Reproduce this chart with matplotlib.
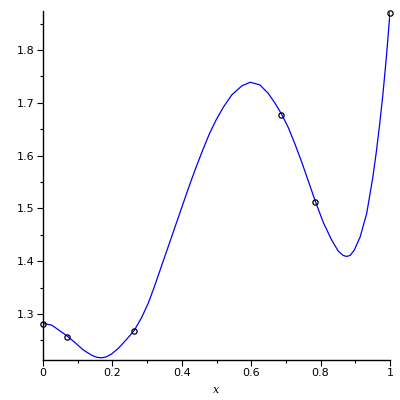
import matplotlib
matplotlib.use("Agg")
from matplotlib import pyplot as plt
from matplotlib.ticker import MultipleLocator

# curve
curve_x = [0.0, 0.025, 0.049, 0.070, 0.092, 0.116, 0.140, 0.155, 0.169, 0.183,
           0.197, 0.217, 0.241, 0.263, 0.284, 0.303, 0.320, 0.340, 0.360, 0.380,
           0.400, 0.420, 0.440, 0.460, 0.480, 0.500, 0.520, 0.544, 0.573, 0.597,
           0.625, 0.649, 0.669, 0.688, 0.707, 0.726, 0.746, 0.765, 0.784, 0.808,
           0.832, 0.851, 0.865, 0.875, 0.885, 0.897, 0.914, 0.933, 0.950, 0.960,
           0.970, 0.980, 0.990, 1.0]
curve_y = [1.282, 1.279, 1.268, 1.258, 1.246, 1.232, 1.222, 1.218, 1.217, 1.219,
           1.224, 1.235, 1.252, 1.269, 1.293, 1.320, 1.350, 1.388, 1.426, 1.464,
           1.502, 1.540, 1.576, 1.610, 1.642, 1.669, 1.692, 1.715, 1.732, 1.739,
           1.734, 1.718, 1.699, 1.678, 1.653, 1.622, 1.587, 1.551, 1.515, 1.473,
           1.440, 1.419, 1.411, 1.409, 1.411, 1.421, 1.446, 1.491, 1.557, 1.604,
           1.658, 1.719, 1.790, 1.871]

# data points
pts_x = [0.0, 0.070, 0.262, 0.687, 0.785, 1.0]
pts_y = [1.282, 1.257, 1.268, 1.677, 1.513, 1.871]

fig = plt.figure(figsize=(4, 4), dpi=100)
ax = fig.add_axes([43 / 400, 40 / 400, 347 / 400, 349 / 400])

ax.plot(curve_x, curve_y, color="#0000ff", lw=0.9)
ax.plot(pts_x, pts_y, "o", mfc="none", mec="black", ms=3.8, mew=0.9, clip_on=False)

ax.set_xlim(0, 1)
ax.set_ylim(1.2129, 1.8739)

ax.xaxis.set_minor_locator(MultipleLocator(0.1))
ax.yaxis.set_minor_locator(MultipleLocator(0.05))
ax.set_xticks([0, 0.2, 0.4, 0.6, 0.8, 1.0])
ax.set_xticklabels(["0", "0.2", "0.4", "0.6", "0.8", "1"])
ax.set_yticks([1.3, 1.4, 1.5, 1.6, 1.7, 1.8])
ax.set_yticklabels(["1.3", "1.4", "1.5", "1.6", "1.7", "1.8"])

ax.tick_params(which="major", length=4, width=0.8, labelsize=8, pad=2)
ax.tick_params(which="minor", length=2.5, width=0.8)

for s in ["top", "right"]:
    ax.spines[s].set_visible(False)
for s in ["left", "bottom"]:
    ax.spines[s].set_linewidth(1.0)

ax.set_xlabel("x", fontstyle="italic", family="DejaVu Serif", fontsize=8, labelpad=5)

fig.savefig("out.png", dpi=100)
